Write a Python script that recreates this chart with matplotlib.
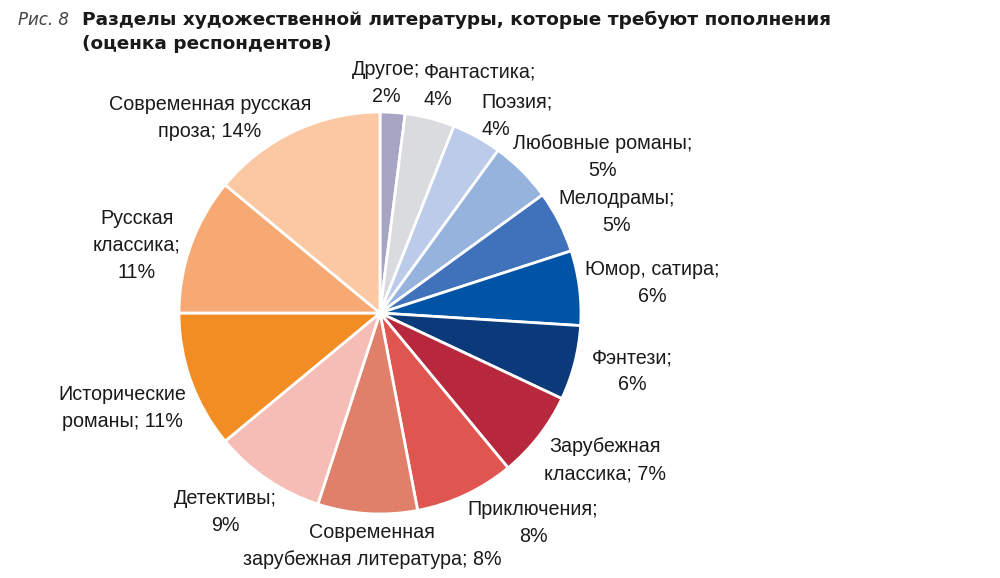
import matplotlib
matplotlib.use("Agg")
import matplotlib.pyplot as plt

# данные
genres = [
    "Другое", "Фантастика", "Поэзия", "Любовные романы", "Мелодрамы",
    "Юмор, сатира", "Фэнтези", "Зарубежная классика", "Приключения",
    "Современная зарубежная литература", "Детективы", "Исторические романы",
    "Русская классика", "Современная русская проза",
]
shares = [2, 4, 4, 5, 5, 6, 6, 7, 8, 8, 9, 11, 11, 14]
colors = [
    "#A6A6C4", "#DADBDE", "#BCCBEA", "#95B3DD", "#3F72BA", "#0053A5",
    "#0B3A7A", "#B8283D", "#DF5651", "#E0806A", "#F6BDB6", "#F28D24",
    "#F6A972", "#FAC9A3",
]
# как подписи разбиты на строки
label_lines = [
    ["Другое;", "{}%"], ["Фантастика;", "{}%"], ["Поэзия;", "{}%"],
    ["Любовные романы;", "{}%"], ["Мелодрамы;", "{}%"], ["Юмор, сатира;", "{}%"],
    ["Фэнтези;", "{}%"], ["Зарубежная", "классика; {}%"], ["Приключения;", "{}%"],
    ["Современная", "зарубежная литература; {}%"], ["Детективы;", "{}%"],
    ["Исторические", "романы; {}%"], ["Русская", "классика;", "{}%"],
    ["Современная русская", "проза; {}%"],
]
# позиции подписей (пиксели, центр блока) и выравнивание
label_pos = [
    (386, 83, "center"), (424, 86, "left"), (481, 116, "left"),
    (603, 157, "center"), (617, 212, "center"), (652, 283, "center"),
    (632, 371, "center"), (605, 460, "center"), (533, 523, "center"),
    (372, 546, "center"), (225, 512, "center"), (122, 408, "center"),
    (137, 245, "center"), (210, 118, "center"),
]
LINE_H = 27

W, H = 1000, 578
fig = plt.figure(figsize=(10, 5.78), dpi=100)

cx, cy, r = 380, 313, 203
ax = fig.add_axes([(cx - r) / W, (H - cy - r) / H, 2 * r / W, 2 * r / H])
ax.pie(shares, colors=colors, startangle=90, counterclock=False,
       wedgeprops=dict(edgecolor="white", linewidth=2))
ax.set_xlim(-1.01, 1.01)
ax.set_ylim(-1.01, 1.01)
ax.set_aspect("equal")
ax.axis("off")

for lines, v, (x, y, ha) in zip(label_lines, shares, label_pos):
    n = len(lines)
    for i, line in enumerate(lines):
        yy = y + (i - (n - 1) / 2) * LINE_H
        fig.text(x / W, 1 - yy / H, line.format(v), ha=ha, va="center",
                 fontsize=14.2, family="Liberation Sans", color="#1a1a1a")

# заголовок
fig.text(18 / W, 1 - 20 / H, "Рис. 8", fontsize=12, style="italic",
         family="DejaVu Sans", color="#444444", va="center")
fig.text(82 / W, 1 - 20 / H,
         "Разделы художественной литературы, которые требуют пополнения",
         fontsize=13.3, fontweight="bold", family="DejaVu Sans", color="#1a1a1a",
         va="center")
fig.text(82 / W, 1 - 44 / H, "(оценка респондентов)",
         fontsize=13.3, fontweight="bold", family="DejaVu Sans", color="#1a1a1a",
         va="center")

fig.savefig("out.png", dpi=100)
